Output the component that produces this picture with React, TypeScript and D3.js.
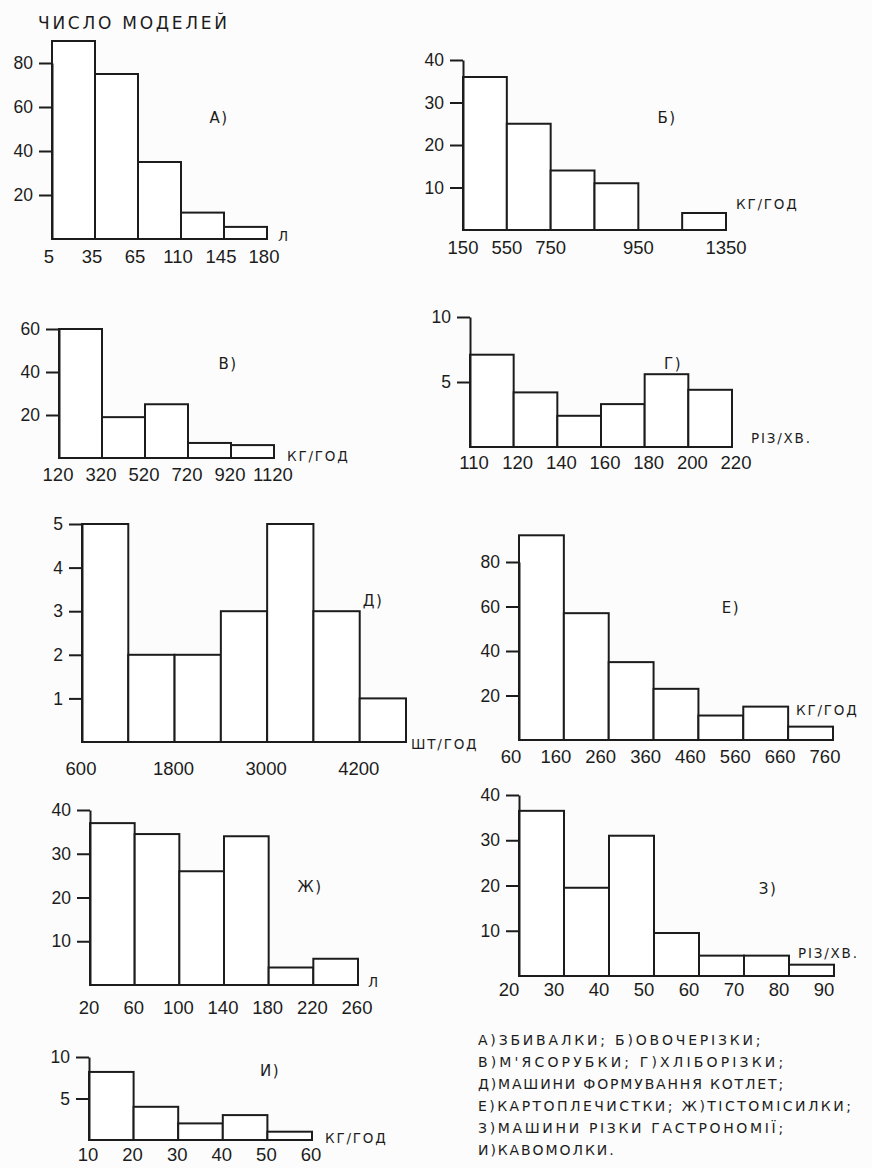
import React, { useEffect, useRef } from "react";
import * as d3 from "d3";

// ---------------- data ----------------
const titleText = "ЧИСЛО МОДЕЛЕЙ";

const edgesA = ["5", "35", "65", "110", "145", "180"];
const valuesA = [90, 75, 35, 12, 5.5];
const ticksA = [20, 40, 60, 80];

const edgesB = ["150", "550", "750", "", "950", "", "1350"];
const valuesB = [36, 25, 14, 11, 0, 4];
const ticksB = [10, 20, 30, 40];

const edgesV = ["120", "320", "520", "720", "920", "1120"];
const valuesV = [60, 19, 25, 7, 6];
const ticksV = [20, 40, 60];

const edgesG = ["110", "120", "140", "160", "180", "200", "220"];
const valuesG = [7.1, 4.2, 2.4, 3.3, 5.6, 4.4];
const ticksG = [5, 10];

const edgesD = ["600", "", "1800", "", "3000", "", "4200", ""];
const valuesD = [5, 2, 2, 3, 5, 3, 1];
const ticksD = [1, 2, 3, 4, 5];

const edgesE = ["60", "160", "260", "360", "460", "560", "660", "760"];
const valuesE = [92, 57, 35, 23, 11, 15, 6];
const ticksE = [20, 40, 60, 80];

const edgesZh = ["20", "60", "100", "140", "180", "220", "260"];
const valuesZh = [37, 34.5, 26, 34, 4, 6];
const ticksZh = [10, 20, 30, 40];

const edgesZ = ["20", "30", "40", "50", "60", "70", "80", "90"];
const valuesZ = [36.5, 19.5, 31, 9.5, 4.5, 4.5, 2.5];
const ticksZ = [10, 20, 30, 40];

const edgesI = ["10", "20", "30", "40", "50", "60"];
const valuesI = [8.2, 4, 2, 3, 1];
const ticksI = [5, 10];

const legendLines = [
  "А)ЗБИВАЛКИ; Б)ОВОЧЕРІЗКИ;",
  "В)М'ЯСОРУБКИ; Г)ХЛІБОРІЗКИ;",
  "Д)МАШИНИ ФОРМУВАННЯ КОТЛЕТ;",
  "Е)КАРТОПЛЕЧИСТКИ; Ж)ТІСТОМІСИЛКИ;",
  "З)МАШИНИ РІЗКИ ГАСТРОНОМІЇ;",
  "И)КАВОМОЛКИ.",
];

// ---------------- layout / style ----------------
const INK = "#1c1c1c";
const NUM_FONT = "'Liberation Sans', Arial, sans-serif";
const CAP_FONT = "'DejaVu Sans', 'Liberation Sans', sans-serif";

type Panel = {
  edges: string[];
  values: number[];
  ticks: number[];
  yMax: number;
  unit: string;
  tag: string;
  x0: number;
  x1: number;
  base: number;
  top: number;
  labelDy: number;
  labelDx: number;
  unitX: number;
  unitY: number;
  tagX: number;
  tagY: number;
};

const panels: Panel[] = [
  { edges: edgesA, values: valuesA, ticks: ticksA, yMax: 80, unit: "Л", tag: "А)",
    x0: 52, x1: 267, base: 239, top: 63, labelDy: 24, labelDx: -3,
    unitX: 278, unitY: 241, tagX: 219, tagY: 123 },
  { edges: edgesB, values: valuesB, ticks: ticksB, yMax: 40, unit: "КГ/ГОД", tag: "Б)",
    x0: 463, x1: 726, base: 230, top: 60, labelDy: 24, labelDx: 0,
    unitX: 736, unitY: 209, tagX: 667, tagY: 123 },
  { edges: edgesV, values: valuesV, ticks: ticksV, yMax: 60, unit: "КГ/ГОД", tag: "В)",
    x0: 59, x1: 274, base: 458, top: 329, labelDy: 23, labelDx: -1,
    unitX: 287, unitY: 461, tagX: 228, tagY: 369 },
  { edges: edgesG, values: valuesG, ticks: ticksG, yMax: 10, unit: "РІЗ/ХВ.", tag: "Г)",
    x0: 470, x1: 732, base: 447, top: 317, labelDy: 22, labelDx: 4,
    unitX: 751, unitY: 443, tagX: 673, tagY: 369 },
  { edges: edgesD, values: valuesD, ticks: ticksD, yMax: 5, unit: "ШТ/ГОД", tag: "Д)",
    x0: 82, x1: 406, base: 742, top: 524, labelDy: 33, labelDx: -1,
    unitX: 411, unitY: 749, tagX: 373, tagY: 606 },
  { edges: edgesE, values: valuesE, ticks: ticksE, yMax: 80, unit: "КГ/ГОД", tag: "Е)",
    x0: 519, x1: 833, base: 740, top: 562, labelDy: 23, labelDx: -8,
    unitX: 796, unitY: 715, tagX: 731, tagY: 613 },
  { edges: edgesZh, values: valuesZh, ticks: ticksZh, yMax: 40, unit: "Л", tag: "Ж)",
    x0: 90, x1: 358, base: 985, top: 810, labelDy: 29, labelDx: -1,
    unitX: 368, unitY: 987, tagX: 310, tagY: 892 },
  { edges: edgesZ, values: valuesZ, ticks: ticksZ, yMax: 40, unit: "РІЗ/ХВ.", tag: "З)",
    x0: 519, x1: 834, base: 976, top: 795, labelDy: 20, labelDx: -10,
    unitX: 798, unitY: 958, tagX: 768, tagY: 894 },
  { edges: edgesI, values: valuesI, ticks: ticksI, yMax: 10, unit: "КГ/ГОД", tag: "И)",
    x0: 89, x1: 312, base: 1140, top: 1057, labelDy: 21, labelDx: -1,
    unitX: 325, unitY: 1143, tagX: 270, tagY: 1076 },
];

function Histogram({ p }: { p: Panel }) {
  const x = d3.scaleLinear().domain([0, p.values.length]).range([p.x0, p.x1]);
  const y = d3.scaleLinear().domain([0, p.yMax]).range([p.base, p.top]);
  const axRef = useRef<SVGGElement>(null);

  useEffect(() => {
    if (!axRef.current) return;
    const g = d3.select(axRef.current);
    g.call(
      d3
        .axisLeft(y)
        .tickValues(p.ticks)
        .tickSize(13)
        .tickSizeOuter(0)
        .tickPadding(6)
        .tickFormat(d3.format("d"))
    );
    g.attr("font-size", null).attr("font-family", null);
    g.select(".domain").attr("stroke", INK).attr("stroke-width", 2);
    g.selectAll(".tick line").attr("stroke", INK).attr("stroke-width", 2);
    g.selectAll(".tick text")
      .attr("fill", INK)
      .attr("font-size", 17.5)
      .attr("font-family", NUM_FONT);
  }, []);

  return (
    <g>
      {p.values.map((v, i) =>
        v > 0 ? (
          <rect
            key={i}
            x={x(i)}
            y={y(v)}
            width={x(i + 1) - x(i)}
            height={p.base - y(v)}
            fill="#fff"
            stroke={INK}
            strokeWidth={2}
          />
        ) : null
      )}
      <line x1={x(0)} x2={x(p.values.length)} y1={p.base} y2={p.base} stroke={INK} strokeWidth={2} />
      <g ref={axRef} transform={`translate(${p.x0},0)`} />
      {p.edges.map((t, i) =>
        t ? (
          <text
            key={i}
            x={x(i) + p.labelDx}
            y={p.base + p.labelDy}
            textAnchor="middle"
            fontFamily={NUM_FONT}
            fontSize={18.5}
            fill={INK}
          >
            {t}
          </text>
        ) : null
      )}
      <text x={p.unitX} y={p.unitY} fontFamily={CAP_FONT} fontSize={13.5} letterSpacing={1.8} fill={INK}>
        {p.unit}
      </text>
      <text x={p.tagX} y={p.tagY} textAnchor="middle" fontFamily={CAP_FONT} fontSize={15} letterSpacing={1.5} fill={INK}>
        {p.tag}
      </text>
    </g>
  );
}

export default function App() {
  return (
    <svg
      width={872}
      height={1168}
      viewBox="0 0 872 1168"
      style={{ position: "absolute", left: 0, top: 0, display: "block", background: "#fcfcfc" }}
    >
      <rect x={0} y={0} width={872} height={1168} fill="#fcfcfc" />
      <text x={38} y={29} fontFamily={CAP_FONT} fontSize={17} textLength={189} lengthAdjust="spacing" fill={INK}>
        {titleText}
      </text>
      {panels.map((p, i) => (
        <Histogram key={i} p={p} />
      ))}
      {legendLines.map((l, i) => (
        <text
          key={i}
          x={478}
          y={1045 + i * 22}
          fontFamily={CAP_FONT}
          fontSize={14}
          textLength={l.length * 11.3}
          lengthAdjust="spacing"
          fill={INK}
        >
          {l}
        </text>
      ))}
    </svg>
  );
}
